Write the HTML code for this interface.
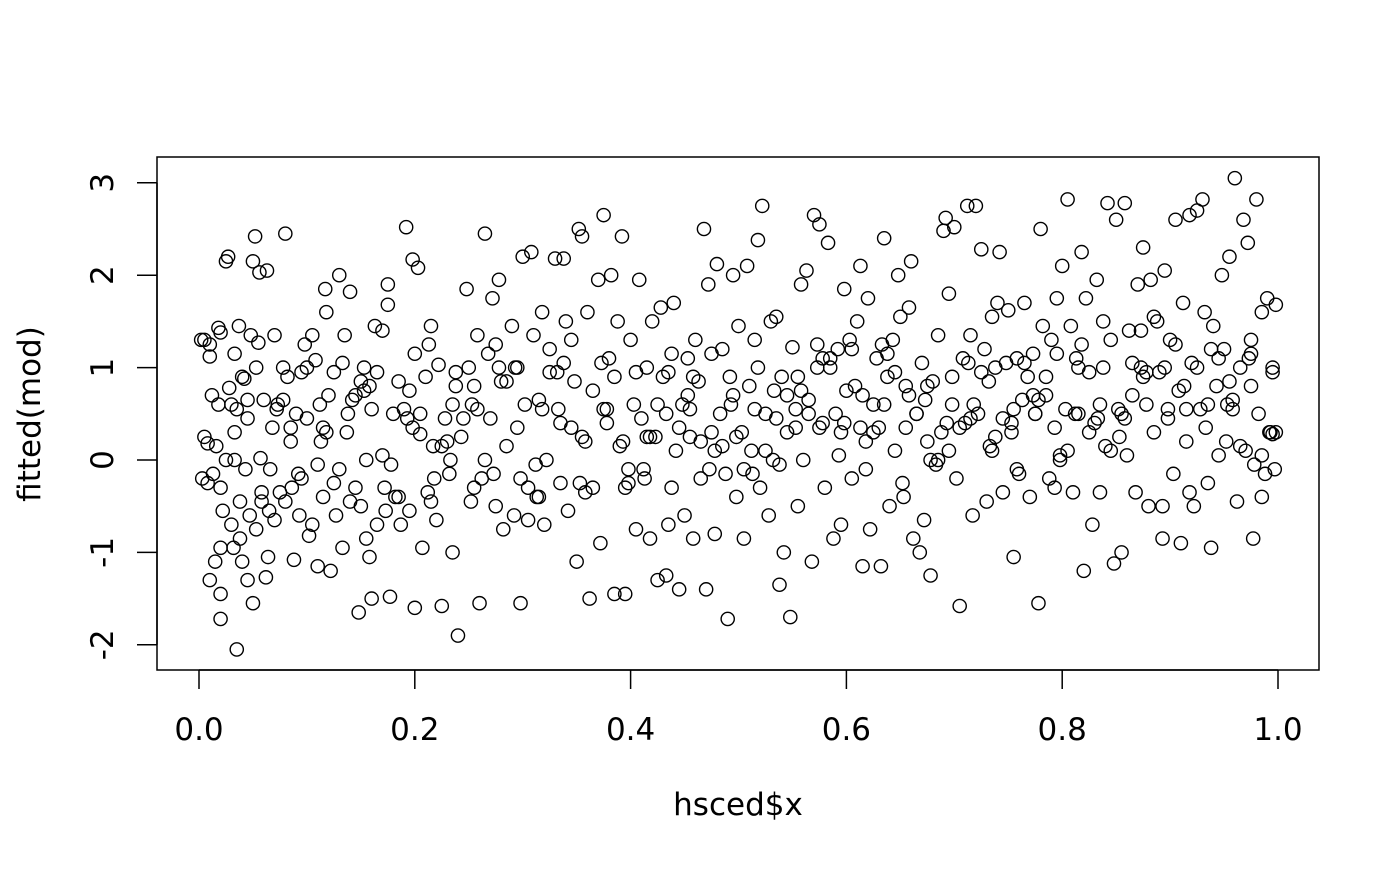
<!DOCTYPE html>
<html><head><meta charset="utf-8"><style>
html,body{margin:0;padding:0;background:#fff;}
svg text{font-family:"DejaVu Sans","Liberation Sans",sans-serif;font-size:31px;fill:#000;}
</style></head><body>
<svg id="chart" width="1400" height="866" viewBox="0 0 1400 866" xmlns="http://www.w3.org/2000/svg">
<rect width="1400" height="866" fill="#fff"/>
<rect x="157" y="157" width="1162" height="513" fill="none" stroke="#000" stroke-width="1.5"/>
<g id="pts"></g>
<g id="axes"></g>
<text x="738" y="815" text-anchor="middle">hsced$x</text>
<text transform="translate(40,414) rotate(-90)" text-anchor="middle">fitted(mod)</text>
</svg>
<script>
const xTicks=[0,0.2,0.4,0.6,0.8,1.0];
const xTickLabels=["0.0","0.2","0.4","0.6","0.8","1.0"];
const yTicks=[-2,-1,0,1,2,3];
const yTickLabels=["-2","-1","0","1","2","3"];
const xs=[0.002,0.005,0.008,0.01,0.01,0.003,0.008,0.01,0.012,0.015,0.016,0.018,0.02,0.02,0.02,0.02,0.02,0.022,0.025,0.027,0.028,0.03,0.03,0.032,0.033,0.033,0.035,0.035,0.037,0.038,0.04,0.04,0.042,0.043,0.045,0.045,0.047,0.048,0.05,0.05,0.052,0.053,0.055,0.056,0.057,0.058,0.06,0.062,0.063,0.064,0.066,0.068,0.07,0.07,0.072,0.075,0.078,0.08,0.08,0.082,0.085,0.086,0.088,0.09,0.092,0.095,0.1,0.1,0.102,0.105,0.105,0.108,0.11,0.11,0.112,0.115,0.117,0.118,0.12,0.122,0.125,0.127,0.13,0.13,0.133,0.135,0.137,0.14,0.14,0.142,0.145,0.148,0.15,0.15,0.153,0.155,0.158,0.16,0.16,0.163,0.165,0.17,0.17,0.172,0.175,0.175,0.177,0.18,0.182,0.185,0.187,0.19,0.192,0.195,0.198,0.2,0.2,0.203,0.205,0.207,0.21,0.212,0.215,0.217,0.22,0.222,0.225,0.228,0.23,0.232,0.235,0.238,0.24,0.243,0.248,0.25,0.252,0.255,0.258,0.26,0.262,0.265,0.268,0.27,0.272,0.275,0.278,0.28,0.282,0.285,0.29,0.292,0.295,0.298,0.3,0.302,0.305,0.308,0.31,0.312,0.315,0.318,0.32,0.322,0.325,0.33,0.332,0.335,0.338,0.34,0.342,0.345,0.348,0.35,0.352,0.355,0.358,0.36,0.362,0.365,0.37,0.372,0.375,0.378,0.38,0.382,0.385,0.388,0.39,0.392,0.395,0.398,0.4,0.403,0.405,0.408,0.41,0.412,0.415,0.418,0.42,0.423,0.425,0.428,0.43,0.433,0.435,0.438,0.44,0.442,0.445,0.448,0.45,0.453,0.455,0.458,0.46,0.463,0.465,0.468,0.47,0.472,0.475,0.478,0.48,0.483,0.485,0.488,0.49,0.492,0.495,0.498,0.5,0.503,0.505,0.508,0.51,0.512,0.515,0.518,0.52,0.522,0.525,0.528,0.53,0.532,0.535,0.538,0.54,0.542,0.545,0.548,0.55,0.553,0.555,0.558,0.56,0.563,0.565,0.568,0.57,0.573,0.575,0.578,0.58,0.583,0.585,0.588,0.59,0.592,0.595,0.598,0.6,0.603,0.605,0.608,0.61,0.613,0.615,0.618,0.62,0.622,0.625,0.628,0.63,0.632,0.635,0.638,0.64,0.643,0.645,0.648,0.65,0.652,0.655,0.658,0.66,0.662,0.665,0.668,0.67,0.672,0.675,0.678,0.68,0.683,0.685,0.688,0.69,0.692,0.695,0.698,0.7,0.702,0.705,0.708,0.71,0.712,0.715,0.717,0.72,0.722,0.725,0.728,0.73,0.732,0.735,0.738,0.74,0.742,0.745,0.748,0.75,0.753,0.755,0.758,0.76,0.763,0.765,0.768,0.77,0.773,0.775,0.778,0.78,0.782,0.785,0.788,0.79,0.793,0.795,0.798,0.8,0.803,0.805,0.808,0.81,0.812,0.815,0.818,0.82,0.822,0.825,0.828,0.83,0.832,0.835,0.838,0.84,0.842,0.845,0.848,0.85,0.852,0.855,0.858,0.86,0.862,0.865,0.868,0.87,0.873,0.875,0.878,0.88,0.882,0.885,0.888,0.89,0.893,0.895,0.898,0.9,0.903,0.905,0.908,0.91,0.912,0.915,0.918,0.92,0.922,0.925,0.928,0.93,0.932,0.935,0.938,0.94,0.943,0.945,0.948,0.95,0.952,0.955,0.958,0.96,0.962,0.965,0.968,0.97,0.972,0.975,0.977,0.98,0.982,0.985,0.988,0.99,0.992,0.995,0.997,0.998,0.995,0.985,0.975,
0.005,0.025,0.045,0.065,0.085,0.095,0.115,0.125,0.145,0.155,0.165,0.185,0.195,0.205,0.215,0.225,0.235,0.245,0.255,0.265,0.275,0.285,0.295,0.305,0.315,0.325,0.335,0.345,0.355,0.365,0.375,0.385,0.395,0.405,0.415,0.425,0.435,0.445,0.455,0.465,0.475,0.485,0.495,0.505,0.515,0.525,0.535,0.545,0.555,0.565,0.575,0.585,0.595,0.605,0.615,0.625,0.635,0.645,0.655,0.665,0.675,0.685,0.695,0.705,0.715,0.725,0.735,0.745,0.755,0.765,0.775,0.785,0.795,0.805,0.815,0.825,0.835,0.845,0.855,0.865,0.875,0.885,0.895,0.905,0.915,0.925,0.935,0.945,0.955,0.965,0.975,0.985,0.995,
0.013,0.033,0.053,0.073,0.093,0.113,0.133,0.153,0.173,0.193,0.213,0.233,0.253,0.273,0.293,0.313,0.333,0.353,0.373,0.393,0.413,0.433,0.453,0.473,0.493,0.513,0.533,0.553,0.573,0.593,0.613,0.633,0.653,0.673,0.693,0.713,0.733,0.753,0.773,0.793,0.813,0.833,0.853,0.873,0.893,0.913,0.933,0.953,0.973,0.993,
0.018,0.038,0.058,0.078,0.098,0.118,0.138,0.158,0.178,0.198,0.218,0.238,0.258,0.278,0.298,0.318,0.338,0.358,0.378,0.398,0.418,0.438,0.458,0.478,0.498,0.518,0.538,0.558,0.578,0.598,0.618,0.638,0.658,0.678,0.698,0.718,0.738,0.758,0.778,0.798,0.818,0.838,0.858,0.878,0.898,0.918,0.938,0.958,0.978,0.998];
const ys=[1.3,0.25,0.18,1.25,1.12,-0.2,-0.25,-1.3,0.7,-1.1,0.15,1.43,1.38,-0.95,-0.3,-1.45,-1.72,-0.55,2.15,2.2,0.78,0.6,-0.7,-0.95,1.15,0.0,-2.05,0.55,1.45,-0.45,-1.1,0.9,0.88,-0.1,-1.3,0.45,-0.6,1.35,-1.55,2.15,2.42,-0.75,1.27,2.03,0.02,-0.35,0.65,-1.27,2.05,-1.05,-0.1,0.35,1.35,-0.65,0.55,-0.35,0.65,2.45,-0.45,0.9,0.2,-0.3,-1.08,0.5,-0.15,0.95,1.0,0.45,-0.82,1.35,-0.7,1.08,-0.05,-1.15,0.6,-0.4,1.85,1.6,0.7,-1.2,0.95,-0.6,-0.1,2.0,-0.95,1.35,0.3,1.82,-0.45,0.65,-0.3,-1.65,0.85,-0.5,1.0,-0.85,-1.05,-1.5,0.55,1.45,-0.7,1.4,0.05,-0.3,1.9,1.68,-1.48,0.5,-0.4,0.85,-0.7,0.55,2.52,-0.55,2.17,1.15,-1.6,2.08,0.28,-0.95,0.9,-0.35,1.45,0.15,-0.65,1.03,-1.58,0.45,0.2,-0.15,-1.0,0.95,-1.9,0.25,1.85,1.0,-0.45,0.8,1.35,-1.55,-0.2,2.45,1.15,0.45,1.75,-0.5,1.95,0.85,-0.75,0.15,1.45,-0.6,1.0,-1.55,2.2,0.6,-0.3,2.25,1.35,-0.05,0.65,1.6,-0.7,0.0,1.2,2.18,0.95,-0.25,2.18,1.5,-0.55,0.35,0.85,-1.1,2.5,2.42,-0.35,1.6,-1.5,0.75,1.95,-0.9,2.65,0.4,1.1,2.0,-1.45,1.5,0.15,2.42,-1.45,-0.25,1.3,0.6,-0.75,1.95,0.45,-0.1,1.0,-0.85,1.5,0.25,-1.3,1.65,0.9,-1.25,-0.7,1.15,1.7,0.1,-1.4,0.6,-0.6,1.1,0.25,-0.85,1.3,0.85,-0.2,2.5,-1.4,1.9,0.3,-0.8,2.12,0.5,1.2,-0.15,-1.72,0.9,2.0,-0.4,1.45,0.3,-0.85,2.1,0.8,0.1,1.3,2.38,-0.3,2.75,0.5,-0.6,1.5,0.0,1.55,-1.35,0.9,-1.0,0.3,-1.7,1.22,0.55,-0.5,1.9,0.0,2.05,0.65,-1.1,2.65,1.25,2.55,0.4,-0.3,2.35,1.0,-0.85,0.5,1.2,-0.7,1.85,0.75,1.3,-0.2,0.8,1.5,2.1,-1.15,0.2,1.75,-0.75,0.6,1.1,0.35,-1.15,2.4,0.9,-0.5,1.3,0.1,2.0,1.55,-0.25,0.8,1.65,2.15,-0.85,0.5,-1.0,1.05,-0.65,0.2,-1.25,0.85,-0.05,1.35,0.3,2.48,2.62,1.8,0.6,2.52,-0.2,-1.58,1.1,0.4,2.75,1.35,-0.6,2.75,0.5,2.28,1.2,-0.45,0.85,1.55,0.25,1.7,2.25,-0.35,1.05,1.62,0.4,-1.05,1.1,-0.15,0.65,1.7,0.9,-0.4,1.15,0.5,-1.55,2.5,1.45,0.7,-0.2,1.3,0.35,1.75,0.0,2.1,0.55,2.82,1.45,-0.35,0.5,1.0,2.25,-1.2,1.75,0.95,-0.7,0.4,1.95,-0.35,1.5,0.15,2.78,1.3,-1.12,2.6,0.55,-1.0,2.78,0.05,1.4,0.7,-0.35,1.9,1.0,2.3,0.6,-0.5,1.95,0.3,1.5,0.95,-0.85,2.05,0.45,1.3,-0.15,2.6,0.75,-0.9,1.7,0.2,2.65,1.05,-0.5,2.7,0.55,2.82,1.6,-0.25,-0.95,1.45,0.8,0.05,2.0,1.2,0.2,2.2,0.65,3.05,-0.45,1.0,2.6,0.1,2.35,1.3,-0.85,2.82,0.5,1.6,-0.15,1.75,0.3,1.0,-0.1,1.68,0.28,-0.4,0.8,
1.3,0.0,0.65,-0.55,0.35,-0.2,0.35,-0.25,0.7,0.0,0.95,-0.4,0.75,0.5,-0.45,0.15,0.6,0.45,-0.3,0.0,1.25,0.85,0.35,-0.65,-0.4,0.95,0.4,1.3,0.25,-0.3,0.55,0.9,-0.3,0.95,0.25,0.6,0.95,0.35,0.55,0.2,1.15,0.15,0.7,-0.1,0.55,0.1,0.45,0.7,0.9,0.5,0.35,1.1,0.3,1.2,0.7,0.3,0.6,0.95,0.35,0.5,0.8,0.0,0.1,0.35,0.45,0.95,0.1,0.45,0.55,1.05,0.5,0.9,1.15,0.1,0.5,0.3,0.6,0.1,0.5,1.05,0.9,1.55,1.0,1.25,0.55,1.0,0.6,1.1,0.85,0.15,1.15,0.05,0.95,
-0.15,0.3,1.0,0.6,-0.6,0.2,1.05,0.75,-0.55,0.45,1.25,0.0,0.6,-0.15,1.0,-0.4,0.55,-0.25,1.05,0.2,-0.2,0.5,0.7,-0.1,0.6,-0.15,0.75,0.35,1.0,0.05,0.35,1.25,-0.4,0.65,0.4,1.05,0.15,0.3,0.7,-0.3,1.1,0.45,0.25,1.4,-0.5,0.8,0.35,0.6,1.1,0.3,
0.6,-0.85,-0.45,1.0,1.25,0.3,0.5,0.8,-0.05,0.35,-0.2,0.8,0.55,1.0,-0.2,0.55,1.05,0.2,0.55,-0.1,0.25,-0.3,0.9,0.1,0.25,1.0,-0.05,0.75,1.1,0.4,-0.1,1.15,0.7,0.0,0.9,0.6,1.0,-0.1,0.65,0.05,1.25,1.0,0.45,0.95,0.55,-0.35,1.2,0.55,-0.05,0.3];
const X=v=>199+v*1079;
const Y=v=>460-v*92.4;
const NS="http://www.w3.org/2000/svg";
const pts=document.getElementById('pts');
for(let i=0;i<xs.length;i++){
  const c=document.createElementNS(NS,'circle');
  c.setAttribute('cx',X(xs[i]));c.setAttribute('cy',Y(ys[i]));c.setAttribute('r',6.6);
  c.setAttribute('fill','none');c.setAttribute('stroke','#000');c.setAttribute('stroke-width','1.4');
  
  
  pts.appendChild(c);
}
const ax=document.getElementById('axes');
function line(x1,y1,x2,y2){const l=document.createElementNS(NS,'line');l.setAttribute('x1',x1);l.setAttribute('y1',y1);l.setAttribute('x2',x2);l.setAttribute('y2',y2);l.setAttribute('stroke','#000');l.setAttribute('stroke-width','1.5');ax.appendChild(l);return l;}
const xl=line(X(xTicks[0]),670,X(xTicks[xTicks.length-1]),670);


const yl=line(157,Y(yTicks[0]),157,Y(yTicks[yTicks.length-1]));


xTicks.forEach((t,i)=>{
  const l=line(X(t),670,X(t),689);
  
  
  const tx=document.createElementNS(NS,'text');
  tx.setAttribute('x',X(t));tx.setAttribute('y',740);tx.setAttribute('text-anchor','middle');
  tx.textContent=xTickLabels[i];
  
  
  ax.appendChild(tx);
});
yTicks.forEach((t,i)=>{
  const l=line(137,Y(t),157,Y(t));
  
  
  const tx=document.createElementNS(NS,'text');
  tx.setAttribute('transform','translate(113,'+Y(t)+') rotate(-90)');tx.setAttribute('text-anchor','middle');
  tx.textContent=yTickLabels[i];
  
  
  ax.appendChild(tx);
});
</script>
</body></html>
